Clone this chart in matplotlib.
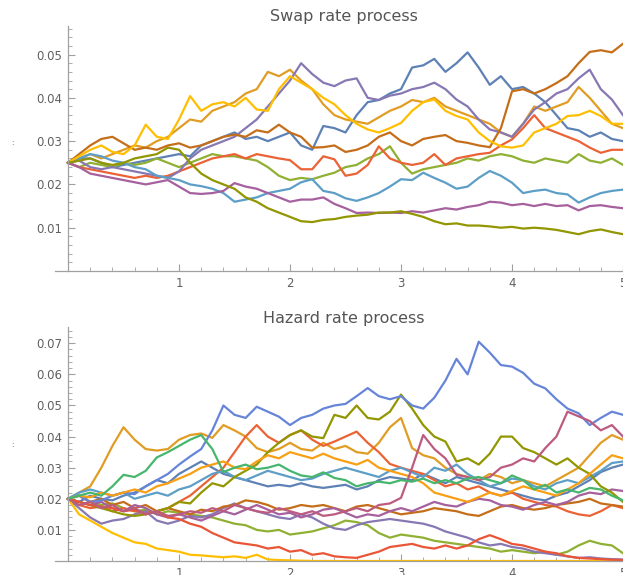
import numpy as np
import matplotlib
matplotlib.use('Agg')
import matplotlib.pyplot as plt
from matplotlib.ticker import FixedLocator, MultipleLocator, FormatStrFormatter

# time grid (years), one value every 0.1
t = np.round(np.arange(51) * 0.1, 1)

# ---------------- Swap rate paths ----------------
swap_blue = [.025,.026,.026,.025,.024,.0245,.025,.0255,.026,.0265,
             .027,.0265,.029,.030,.031,.032,.0305,.031,.030,.031,
             .032,.029,.028,.0335,.033,.032,.036,.039,.0395,.041,
             .042,.047,.0475,.049,.046,.048,.0505,.047,.043,.045,
             .042,.0425,.041,.039,.036,.033,.0325,.031,.032,.0305,
             .030]
swap_orange = [.025,.026,.027,.026,.027,.028,.029,.0285,.030,.031,
               .033,.035,.0345,.037,.038,.039,.041,.042,.046,.045,
               .0465,.044,.042,.0385,.036,.035,.0345,.034,.0355,.037,
               .038,.0395,.039,.040,.038,.037,.036,.035,.034,.032,
               .031,.034,.038,.037,.038,.039,.0425,.040,.037,.034,
               .033]
swap_green = [.025,.024,.025,.0245,.024,.025,.0245,.025,.026,.025,
              .024,.025,.026,.027,.0265,.0265,.026,.0255,.024,.022,
              .021,.0215,.0212,.022,.0227,.024,.0245,.026,.027,.0288,
              .025,.0225,.0235,.024,.0245,.025,.026,.0255,.0265,.027,
              .0265,.0255,.025,.026,.0255,.025,.027,.0255,.025,.026,
              .0245]
swap_red = [.025,.024,.0235,.023,.0225,.022,.0215,.022,.0215,.022,
            .023,.024,.025,.026,.0265,.027,.026,.027,.0265,.026,
            .0256,.0235,.0235,.0265,.0258,.022,.0225,.0245,.0288,.026,
            .025,.0245,.025,.027,.0245,.026,.0265,.027,.0273,.029,
            .0304,.033,.036,.033,.032,.031,.030,.0285,.0273,.028,
            .028]
swap_purple = [.025,.0255,.024,.0235,.024,.0235,.023,.0225,.022,.0215,
               .023,.026,.028,.029,.030,.031,.033,.035,.038,.041,
               .044,.048,.0455,.0435,.0427,.044,.0445,.040,.0395,.0405,
               .041,.042,.0425,.0435,.042,.0396,.038,.035,.0327,.032,
               .031,.034,.0373,.039,.041,.042,.0445,.0465,.042,.0396,
               .036]
swap_brown = [.025,.027,.029,.0305,.031,.0295,.028,.0285,.028,.029,
              .0295,.0285,.029,.030,.031,.0315,.031,.0325,.032,.0338,
              .032,.031,.0285,.0286,.029,.0275,.028,.029,.031,.032,
              .030,.029,.0305,.031,.0314,.030,.0296,.029,.0286,.033,
              .0415,.042,.041,.042,.0434,.045,.048,.0506,.051,.0505,
              .0525]
swap_lblue = [.025,.026,.027,.0265,.0255,.025,.024,.0235,.022,.0215,
              .021,.020,.0196,.019,.018,.016,.0165,.017,.018,.0185,
              .019,.0205,.0212,.0185,.018,.0168,.0162,.017,.018,.0195,
              .0212,.021,.0227,.0215,.0204,.019,.0195,.0215,.0231,.022,
              .0204,.018,.0185,.0188,.018,.0177,.0158,.017,.018,.0185,
              .0188]
swap_yellow = [.025,.0265,.028,.029,.0275,.027,.029,.0338,.031,.0305,
               .035,.0404,.037,.0385,.039,.038,.040,.0373,.037,.042,
               .045,.0435,.042,.040,.0385,.036,.034,.0327,.032,.033,
               .0342,.037,.039,.0396,.037,.0358,.035,.032,.030,.0288,
               .0285,.029,.032,.033,.034,.0358,.036,.037,.0358,.034,
               .034]
swap_magenta = [.025,.024,.0225,.022,.0215,.021,.0205,.020,.0205,.021,
                .0195,.018,.0178,.018,.0185,.0203,.0195,.019,.018,.017,
                .016,.0165,.0165,.017,.0155,.0145,.0134,.0135,.0134,.0135,
                .0134,.0138,.0135,.014,.0145,.0142,.0148,.0152,.016,.0158,
                .0152,.0155,.015,.0155,.015,.0152,.014,.015,.0152,.0148,
                .0145]
swap_olive = [.025,.0255,.026,.025,.0245,.025,.026,.0265,.027,.0285,
              .028,.025,.0225,.021,.020,.019,.017,.016,.0145,.0135,
              .0125,.0115,.0113,.0118,.012,.0125,.0128,.013,.0135,.0135,
              .0138,.0132,.0125,.0115,.0108,.011,.0105,.0105,.0103,.010,
              .0102,.0098,.010,.0098,.0095,.009,.0085,.0092,.0096,.009,
              .0085]

# ---------------- Hazard rate paths ----------------
haz_blue = [.020,.019,.021,.020,.0195,.021,.022,.024,.026,.025,
            .028,.030,.032,.030,.028,.027,.026,.025,.024,.0245,
            .024,.025,.024,.0235,.024,.0245,.023,.024,.026,.027,
            .0265,.026,.028,.0265,.025,.027,.026,.025,.024,.023,
            .022,.021,.020,.0195,.021,.022,.024,.026,.0286,.030,
            .031]
haz_orange = [.020,.022,.024,.030,.037,.043,.039,.036,.0355,.036,
              .039,.0405,.041,.0396,.0437,.042,.040,.0363,.035,.036,
              .038,.036,.0355,.038,.036,.037,.035,.0345,.038,.043,
              .046,.0363,.034,.033,.030,.028,.027,.026,.028,.027,
              .025,.026,.025,.024,.026,.028,.030,.034,.038,.0405,
              .039]
haz_lgreen = [.020,.021,.019,.018,.0185,.017,.016,.0165,.015,.016,
              .0155,.015,.0145,.014,.013,.012,.0115,.010,.0095,.010,
              .0085,.009,.0095,.0105,.0115,.013,.0125,.0115,.009,.0075,
              .0085,.008,.0075,.0065,.006,.0055,.005,.0045,.004,.003,
              .0035,.003,.0025,.003,.002,.003,.005,.0065,.0055,.005,
              .0025]
haz_red = [.020,.018,.017,.0175,.016,.017,.016,.0155,.016,.017,
           .019,.021,.024,.027,.030,.035,.040,.0437,.040,.038,
           .0405,.042,.039,.037,.0384,.040,.0416,.038,.035,.0312,
           .030,.029,.028,.026,.024,.025,.023,.024,.022,.021,
           .022,.020,.019,.018,.0175,.016,.015,.0145,.016,.018,
           .017]
haz_purple = [.020,.017,.014,.012,.013,.0135,.015,.016,.013,.012,
              .013,.0145,.014,.015,.017,.0185,.017,.016,.015,.014,
              .0135,.015,.014,.012,.0105,.010,.0115,.0125,.013,.0135,
              .013,.0125,.012,.011,.0095,.0085,.0075,.006,.005,.0055,
              .0045,.004,.003,.0025,.002,.0015,.001,.0012,.0008,.0006,
              .0005]
haz_brown = [.020,.021,.019,.020,.018,.019,.017,.018,.016,.017,
             .016,.015,.0165,.016,.0175,.018,.0195,.019,.018,.0165,
             .017,.018,.0175,.018,.017,.016,.0175,.018,.017,.016,
             .015,.0155,.016,.017,.0165,.016,.015,.0145,.016,.0175,
             .018,.017,.0165,.017,.018,.0185,.019,.020,.0185,.018,
             .0175]
haz_lblue = [.020,.022,.023,.022,.021,.022,.020,.021,.022,.021,
             .023,.024,.026,.028,.029,.027,.026,.0275,.029,.028,
             .027,.026,.0265,.028,.029,.030,.029,.028,.027,.029,
             .030,.0285,.027,.030,.029,.031,.028,.026,.024,.025,
             .0265,.026,.024,.023,.025,.026,.025,.027,.029,.0315,
             .032]
haz_yellow = [.020,.015,.013,.011,.009,.0075,.006,.0055,.004,.0035,
              .003,.002,.0018,.0015,.0012,.0015,.001,.002,.0005,.0003,
              .0002,.0001,0,0,0,0,0,0,0,0,
              0,0,0,0,0,0,0,0,0,0,
              0,0,0,0,0,0,0,0,0,0,
              0]
haz_purple2 = [.020,.019,.018,.019,.017,.016,.018,.017,.015,.014,
               .015,.014,.013,.0145,.016,.015,.0165,.018,.0165,.015,
               .0155,.014,.015,.0165,.017,.0155,.014,.015,.0145,.016,
               .017,.016,.0175,.019,.018,.0175,.019,.020,.0195,.018,
               .0175,.0165,.018,.019,.018,.019,.021,.022,.0215,.023,
               .0225]
haz_olive = [.020,.019,.018,.017,.016,.015,.0145,.015,.016,.017,
             .019,.0185,.022,.025,.024,.027,.029,.031,.035,.038,
             .0405,.042,.040,.0395,.047,.046,.050,.046,.0455,.048,
             .0535,.049,.0437,.040,.0384,.032,.033,.031,.0345,.040,
             .040,.0363,.035,.033,.031,.033,.030,.028,.024,.022,
             .019]
haz_redlow = [.020,.019,.018,.0175,.017,.016,.0165,.015,.016,.014,
              .0135,.012,.011,.009,.0075,.006,.0055,.005,.004,.0045,
              .003,.0035,.002,.0025,.0015,.0012,.001,.002,.003,.0045,
              .005,.0055,.0045,.004,.005,.004,.005,.007,.0083,.007,
              .0055,.005,.004,.003,.0025,.0015,.001,.0008,.0006,.0004,
              .0003]
haz_bigblue = [.020,.021,.019,.0195,.021,.022,.0215,.024,.026,.028,
               .031,.0336,.036,.042,.050,.047,.046,.0496,.048,.0464,
               .0437,.046,.047,.049,.050,.0505,.053,.0556,.053,.052,
               .053,.050,.049,.0525,.058,.065,.060,.0705,.067,.063,
               .0625,.0605,.057,.0555,.052,.049,.0475,.0437,.046,.048,
               .047]
haz_orange2 = [.020,.021,.0205,.022,.021,.022,.023,.022,.024,.025,
               .0265,.028,.030,.031,.032,.030,.0295,.032,.034,.033,
               .035,.034,.033,.0345,.033,.032,.031,.0325,.030,.029,
               .028,.027,.025,.022,.021,.020,.019,.0205,.022,.021,
               .0225,.024,.023,.022,.021,.023,.025,.028,.031,.034,
               .033]
haz_magenta = [.020,.018,.019,.017,.018,.016,.017,.015,.016,.0145,
               .015,.016,.0155,.017,.016,.018,.017,.016,.0155,.017,
               .016,.015,.016,.0145,.015,.016,.017,.016,.018,.0185,
               .0203,.030,.0405,.036,.033,.0277,.027,.026,.027,.030,
               .031,.033,.032,.0363,.040,.048,.0465,.045,.042,.0437,
               .040]
haz_teal = [.020,.021,.022,.021,.024,.0277,.027,.029,.0333,.035,
            .037,.039,.0405,.036,.0286,.030,.031,.0295,.030,.031,
            .029,.0275,.027,.0285,.0267,.026,.024,.025,.0255,.025,
            .026,.0255,.0265,.025,.026,.025,.0265,.027,.026,.025,
            .0275,.026,.023,.0245,.022,.023,.022,.0235,.023,.021,
            .0195]

swap_series = [(swap_blue, '#5E81B5'), (swap_orange, '#E19C24'), (swap_green, '#8FB032'),
               (swap_red, '#EB6235'), (swap_purple, '#8778B3'), (swap_brown, '#C56E1A'),
               (swap_lblue, '#5D9EC7'), (swap_yellow, '#FFBF00'), (swap_magenta, '#A5609D'),
               (swap_olive, '#929600')]
haz_series = [(haz_blue, '#5E81B5'), (haz_orange, '#E19C24'), (haz_lgreen, '#8FB032'),
              (haz_red, '#EB6235'), (haz_purple, '#8778B3'), (haz_brown, '#C56E1A'),
              (haz_lblue, '#5D9EC7'), (haz_yellow, '#FFBF00'), (haz_purple2, '#A5609D'),
              (haz_olive, '#929600'), (haz_redlow, '#E95536'), (haz_bigblue, '#6685D9'),
              (haz_orange2, '#F89F13'), (haz_magenta, '#BC5B80'), (haz_teal, '#47B66D')]

swap_yticks = [0.01, 0.02, 0.03, 0.04, 0.05]
haz_yticks = [0.01, 0.02, 0.03, 0.04, 0.05, 0.06, 0.07]
x_ticks = [1, 2, 3, 4, 5]

W, H = 623, 575
fig = plt.figure(figsize=(W / 100, H / 100), dpi=100)
ax1 = fig.add_axes([54.7 / W, 304 / H, (W - 54.7) / W, 244.6 / H])
ax2 = fig.add_axes([54.7 / W, 14 / H, (W - 54.7) / W, 233.9 / H])

AXC = '#a0a0a0'
LBC = '#606060'


def style(ax, ymax, yticks):
    ax.set_xlim(-0.12, 5.0)
    ax.set_ylim(0, ymax)
    ax.patch.set_alpha(0)
    for s in ['top', 'right']:
        ax.spines[s].set_visible(False)
    ax.spines['left'].set_position(('data', 0))
    ax.spines['bottom'].set_position(('data', 0))
    for s in ['left', 'bottom']:
        ax.spines[s].set_color(AXC)
        ax.spines[s].set_linewidth(0.9)
    ax.xaxis.set_major_locator(FixedLocator(x_ticks))
    ax.xaxis.set_minor_locator(FixedLocator([round(0.2 * i, 1) for i in range(1, 26) if i % 5]))
    ax.yaxis.set_major_locator(FixedLocator(yticks))
    ax.yaxis.set_minor_locator(MultipleLocator(0.002))
    ax.yaxis.set_major_formatter(FormatStrFormatter('%.2f'))
    ax.tick_params(which='major', direction='in', length=5, width=0.8, color=AXC,
                   labelcolor=LBC, labelsize=8.5, pad=4)
    ax.tick_params(which='minor', direction='in', length=3, width=0.6, color=AXC)


style(ax1, 0.0565, swap_yticks)
style(ax2, 0.0752, haz_yticks)

for vals, c in swap_series:
    assert len(vals) == len(t)
    ax1.plot(t, vals, color=c, lw=1.6, solid_joinstyle='round')
for vals, c in haz_series:
    assert len(vals) == len(t)
    ax2.plot(t, vals, color=c, lw=1.6, solid_joinstyle='round')

fig.text(344 / W, 1 - 17 / H, 'Swap rate process', ha='center', va='center',
         fontsize=11.5, color='#555555')
fig.text(344 / W, 1 - 318 / H, 'Hazard rate process', ha='center', va='center',
         fontsize=11.5, color='#555555')
fig.text(12 / W, 1 - 143 / H, ':', ha='center', va='center', fontsize=5, color='#44557a')
fig.text(12 / W, 1 - 445 / H, ':', ha='center', va='center', fontsize=5, color='#44557a')

fig.savefig('out.png', dpi=100)
